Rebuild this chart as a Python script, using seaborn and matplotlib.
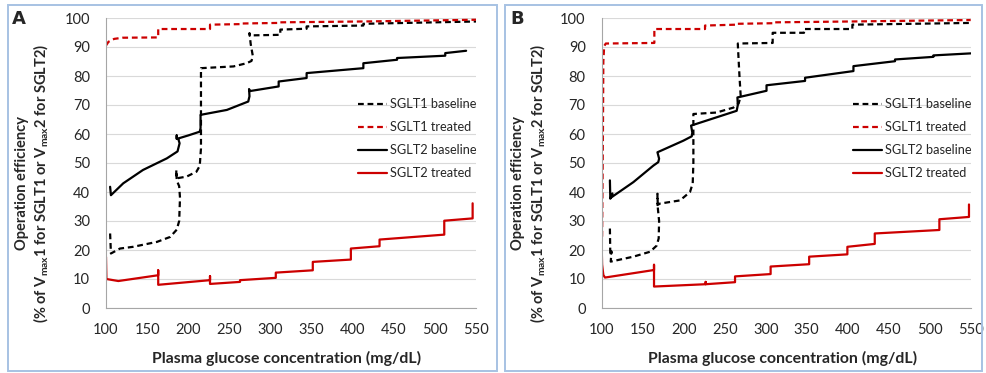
import matplotlib
matplotlib.use("Agg")
import matplotlib.pyplot as plt
import seaborn as sns
import pandas as pd
from matplotlib.patches import Rectangle

sns.set_style("white")
plt.rcParams['font.family'] = ['Lato', 'DejaVu Sans']
plt.rcParams['mathtext.fontset'] = 'custom'
plt.rcParams['mathtext.rm'] = 'Lato'
plt.rcParams['mathtext.bf'] = 'Lato:bold'
plt.rcParams['lines.dashed_pattern'] = [2.6, 1.7]

# ---------------- data ----------------
x_ticks = [100, 150, 200, 250, 300, 350, 400, 450, 500, 550]
y_ticks = [0, 10, 20, 30, 40, 50, 60, 70, 80, 90, 100]
series_labels = ["SGLT1 baseline", "SGLT1 treated", "SGLT2 baseline", "SGLT2 treated"]
panel_labels = ["A", "B"]
x_label = "Plasma glucose concentration (mg/dL)"
y_label_1 = "Operation efficiency"
y_label_2 = "(% of V$_{\\mathregular{max}}$1 for SGLT1 or V$_{\\mathregular{max}}$2 for SGLT2)"

# Panel A
a_s1_base_x = [105, 106, 117, 133, 162, 178, 186, 189, 190, 189, 186, 185.5, 185.5, 198, 210, 214, 215.5, 215.5,
               255, 271, 277, 278.5, 276, 274.5, 275, 312, 312, 344, 344, 413, 413, 550]
a_s1_base_y = [25.7, 18.8, 20.5, 21.1, 22.8, 24.5, 27, 30, 38, 42, 44, 47.6, 44.7, 45.3, 47, 49, 55, 82.7,
               83.3, 84.4, 85.2, 87, 91, 94.8, 94, 94.2, 96, 96.3, 97.1, 97.4, 98, 98.8]
a_s1_trt_x = [100, 103, 110, 120, 163.5, 163.5, 226.5, 226.5, 265, 265, 310, 310, 413, 550]
a_s1_trt_y = [90.5, 91.8, 92.8, 93.2, 93.3, 96.2, 96.2, 97.7, 97.9, 98.1, 98.3, 98.5, 98.8, 99.4]
a_s2_base_x = [105, 106, 121, 145, 174, 187, 189.5, 188, 186, 186, 186, 200, 214, 215, 215, 247, 273, 274.5, 274, 275,
               310, 310, 344, 344, 413, 413, 454, 454, 512.6, 512.6, 538]
a_s2_base_y = [41.8, 38.9, 43, 47.6, 51.6, 54, 56.8, 58.2, 58.5, 59.5, 58.3, 59.5, 60.8, 62, 66.6, 68.3, 71.2, 73, 75.5, 74.8,
               76.4, 78.1, 79.3, 81, 82.7, 84.4, 85.6, 86.2, 87, 87.9, 88.7]
a_s2_trt_x = [100, 100.5, 115, 163.5, 163.5, 163.5, 226.5, 226.5, 226.5, 263, 263, 306.5, 306.5, 351.5, 351.5,
              397.8, 397.8, 432.7, 432.7, 511.4, 511.4, 545.9, 545.9]
a_s2_trt_y = [17.6, 10, 9.3, 11.3, 13, 8.0, 9.6, 11, 8.3, 9.0, 9.6, 10.4, 12.2, 13.0, 15.9,
              16.7, 20.5, 21.3, 23.6, 25.3, 30.1, 30.9, 36.1]

# Panel B
b_s1_base_x = [110, 110.5, 112, 111, 138.6, 159, 167, 169.5, 170, 168.5, 168, 168, 171, 195.5, 207.7, 211, 211.8, 211.8,
               240, 260.6, 267, 269.5, 268, 266, 266, 308.5, 308.5, 346.7, 346.7, 405.7, 405.7, 550]
b_s1_base_y = [27.4, 18, 19.5, 16, 17.7, 19.4, 21.5, 24, 30, 34.3, 39.4, 35.5, 36, 37.1, 40, 43, 50, 66.9,
               67.4, 69.1, 70.5, 73.1, 80, 90.9, 91.2, 91.4, 94.9, 94.9, 96.2, 96.2, 97.7, 98.3]
b_s1_trt_x = [100.5, 101.5, 102, 103, 105, 164.2, 164.2, 226, 226, 264.6, 264.6, 309, 309, 405, 550]
b_s1_trt_y = [24.6, 60, 85, 90.3, 91.2, 91.4, 96.2, 96.2, 97.4, 97.7, 98, 98.2, 98.5, 98.8, 99.3]
b_s2_base_x = [110, 110.5, 113, 112, 138.6, 163, 169, 170, 169, 168, 199.6, 209.8, 210.5, 209, 264.6, 266, 265.5,
               301, 301, 348, 348, 407, 407, 457.7, 457.7, 504.5, 504.5, 550]
b_s2_base_y = [44, 37.7, 39.5, 38.2, 43.4, 49.1, 50.3, 51.5, 52.6, 53.7, 57.7, 59.2, 60.5, 62.9, 68, 70, 72.6,
               74.9, 76.8, 78.3, 79.4, 81.7, 83.4, 85.1, 85.7, 86.6, 87.1, 87.8]
b_s2_trt_x = [100, 100.5, 102, 104, 163.8, 163.8, 163.8, 226.8, 226.8, 226.8, 262.6, 262.6, 306, 306, 353, 353,
              399.6, 399.6, 433, 433, 511.8, 511.8, 547.9, 547.9]
b_s2_trt_y = [21.1, 15, 11.4, 10.5, 13.1, 14.9, 7.4, 8.2, 9, 8.2, 8.9, 10.9, 11.7, 14.3, 15.1, 17.7,
              18.5, 21.1, 22.1, 25.7, 26.9, 30.6, 31.4, 35.7]

panels = [
    [(a_s1_base_x, a_s1_base_y), (a_s1_trt_x, a_s1_trt_y), (a_s2_base_x, a_s2_base_y), (a_s2_trt_x, a_s2_trt_y)],
    [(b_s1_base_x, b_s1_base_y), (b_s1_trt_x, b_s1_trt_y), (b_s2_base_x, b_s2_base_y), (b_s2_trt_x, b_s2_trt_y)],
]

# ---------------- styles / layout ----------------
RED = "#cc0000"
styles = [("black", "--"), (RED, "--"), ("black", "-"), (RED, "-")]

W, H = 986, 373
fig = plt.figure(figsize=(W / 100, H / 100), dpi=100)
renderer = fig.canvas.get_renderer()
axes_px = [(106, 18, 476, 308), (601.7, 18, 970.7, 308)]   # left, top, right, bottom in px
box_px = [(8, 5, 497, 371), (505, 5, 982, 371)]
label_px = [12, 510]
ylab_cx = [(22.5, 41.5), (518, 538.5)]
xlab_cx = [287, 783]
leg_text_left = [390, 885]


def text_extent(txt, fs, **kw):
    t = fig.text(0, 0, txt, fontsize=fs, **kw)
    bb = t.get_window_extent(renderer)
    t.remove()
    return bb.width, bb.height


# fit font sizes to the reference text extents (px)
w, _ = text_extent(series_labels[0], 10)
leg_fs = 10 * 87 / w
w, _ = text_extent(x_label, 10, fontweight="bold")
xlab_fs = 10 * 270 / w
_, h = text_extent(y_label_2, 10, fontweight="bold", rotation=90)
ylab_fs = 10 * 280 / h


def place_legend(ax, text_left, row1_py, spacing):
    fs_px = leg_fs * 100 / 72
    ls = 0.5
    fx, fy = text_left / W, 1 - (row1_py - 8) / H
    for it in range(5):
        leg = ax.legend(loc="upper left", bbox_to_anchor=(fx, fy), bbox_transform=fig.transFigure,
                        frameon=False, fontsize=leg_fs, handlelength=29 / fs_px, handletextpad=3 / fs_px,
                        labelspacing=ls, borderpad=0, borderaxespad=0)
        fig.canvas.draw()
        lines = leg.get_lines()
        ys = [(ln.get_window_extent(renderer).y0 + ln.get_window_extent(renderer).y1) / 2 for ln in lines]
        tb = leg.get_texts()[0].get_window_extent(renderer)
        cur_sp = (ys[0] - ys[-1]) / (len(ys) - 1)
        if it < 3:
            ls += (spacing - cur_sp) / fs_px
        fx += (text_left - tb.x0) / W
        fy += ((H - row1_py) - ys[0]) / H
    return leg


for i, series in enumerate(panels):
    bl, bt, br, bb = box_px[i]
    fig.patches.append(Rectangle((bl / W, 1 - bb / H), (br - bl) / W, (bb - bt) / H,
                                 transform=fig.transFigure, fill=False,
                                 edgecolor="#a7c2e3", linewidth=1.4, zorder=0))
    l, t, r, b = axes_px[i]
    ax = fig.add_axes([l / W, 1 - b / H, (r - l) / W, (b - t) / H])
    for (xs, ys), lab, (col, ls) in zip(series, series_labels, styles):
        df = pd.DataFrame({"x": xs, "y": ys})
        sns.lineplot(data=df, x="x", y="y", sort=False, estimator=None, ax=ax,
                     color=col, linestyle=ls, linewidth=1.6, label=lab)
    ax.set_xlim(100, 550)
    ax.set_ylim(0, 100)
    ax.set_xticks(x_ticks)
    ax.set_yticks(y_ticks)
    ax.tick_params(axis="x", length=4, width=0.8, color="#a6a6a6", labelsize=10.5, pad=7)
    ax.tick_params(axis="y", length=0, labelsize=10.5, pad=11.5)
    ax.grid(axis="y", color="#d9d9d9", linewidth=0.8)
    ax.set_axisbelow(True)
    for s in ["top", "right"]:
        ax.spines[s].set_visible(False)
    for s in ["left", "bottom"]:
        ax.spines[s].set_color("#a6a6a6")
        ax.spines[s].set_linewidth(0.8)
    ax.set_xlabel("")
    ax.set_ylabel("")
    fig.text(xlab_cx[i] / W, 1 - 358 / H, x_label, ha="center", va="center",
             fontsize=xlab_fs, fontweight="bold")
    for cx, txt in zip(ylab_cx[i], [y_label_1, y_label_2]):
        fig.text(cx / W, 1 - 183 / H, txt, rotation=90, ha="center", va="center",
                 fontsize=ylab_fs, fontweight="bold")
    fig.text(label_px[i] / W, 1 - 10 / H, panel_labels[i], fontsize=13, fontweight="bold",
             ha="left", va="top", family="DejaVu Sans")
    place_legend(ax, leg_text_left[i], 104, 23)

fig.savefig("out.png", dpi=100)
